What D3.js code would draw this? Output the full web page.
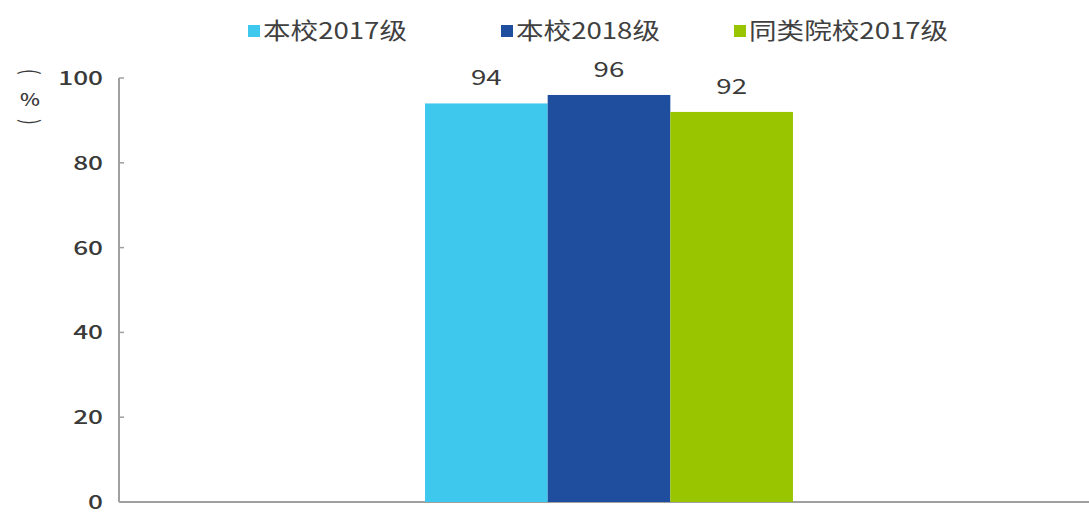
<!DOCTYPE html>
<html><head><meta charset="utf-8">
<script src="https://cdn.jsdelivr.net/npm/d3@7"></script>
<style>body{margin:0;background:#fff}svg{display:block}</style>
</head><body>
<svg id="c" width="1089" height="513"></svg>
<script>
const categories = [""];
const seriesNames = ["本校2017级", "本校2018级", "同类院校2017级"];
const seriesValues = [[94], [96], [92]];
const yTicks = [0, 20, 40, 60, 80, 100];
const colors = ["#3ec8ee", "#1f4e9e", "#99c400"];

(function () {
const svg = d3.select("#c");
const font = "'Noto Sans CJK SC','Noto Sans',sans-serif";
const mLeft = 119, mRight = 1089, mTop = 78, mBottom = 502;
const sx = 1.38;

const y = d3.scaleLinear().domain([0, 100]).range([mBottom, mTop]);
const x0 = d3.scaleBand().domain(categories).range([124, 1094]).paddingInner(0.45).paddingOuter(0.45);
const x1 = d3.scaleBand().domain(seriesNames).range([0, x0.bandwidth()]).padding(0);

// axes
const yAxis = d3.axisLeft(y).tickValues(yTicks).tickSize(0).tickPadding(0);
const gy = svg.append("g").attr("transform", `translate(${mLeft},0)`).call(yAxis);
gy.select(".domain").remove();
gy.selectAll(".tick text")
  .attr("x", null).attr("dy", null)
  .attr("transform", "translate(-16,6.5) scale(" + sx + ",1)")
  .attr("font-family", font).attr("font-size", 19).attr("font-weight", 500).attr("fill", "#3a3a3a");
// inner ticks
svg.append("g").selectAll("line").data(yTicks).join("line")
  .attr("x1", mLeft).attr("x2", mLeft + 5).attr("y1", d => y(d)).attr("y2", d => y(d))
  .attr("stroke", "#a0a0a0").attr("stroke-width", 1.5);
svg.append("line").attr("x1", mLeft).attr("x2", mLeft).attr("y1", y(100)).attr("y2", mBottom)
  .attr("stroke", "#a0a0a0").attr("stroke-width", 2);
svg.append("line").attr("x1", mLeft).attr("x2", mRight).attr("y1", mBottom).attr("y2", mBottom)
  .attr("stroke", "#a0a0a0").attr("stroke-width", 2);

// unit label
svg.append("text").attr("transform", "translate(30,72) rotate(90) scale(1,1.4)").attr("text-anchor", "middle")
  .attr("dy", "0.35em").attr("font-family", font).attr("font-size", 17).attr("fill", "#3a3a3a").text("(");
svg.append("text").attr("transform", "translate(30,100) scale(1.25,1)").attr("text-anchor", "middle").attr("dy", "0.35em")
  .attr("font-family", font).attr("font-size", 17).attr("font-weight", 500).attr("fill", "#3a3a3a").text("%");
svg.append("text").attr("transform", "translate(30,122) rotate(90) scale(1,1.4)").attr("text-anchor", "middle")
  .attr("dy", "0.35em").attr("font-family", font).attr("font-size", 17).attr("fill", "#3a3a3a").text(")");

// bars
const g = svg.append("g");
seriesNames.forEach((s, i) => {
  categories.forEach((c, j) => {
    const v = seriesValues[i][j];
    g.append("rect").attr("x", x0(c) + x1(s)).attr("width", x1.bandwidth())
      .attr("y", y(v)).attr("height", y(0) - y(v)).attr("fill", colors[i]);
    g.append("text")
      .attr("transform", `translate(${x0(c) + x1(s) + x1.bandwidth() / 2},${y(v) - 18}) scale(1.32,1)`)
      .attr("text-anchor", "middle").attr("font-family", font).attr("font-size", 21)
      .attr("fill", "#3a3a3a").text(v);
  });
});

// legend
const legX = [248, 501, 734];
const leg = svg.append("g");
seriesNames.forEach((s, i) => {
  leg.append("rect").attr("x", legX[i]).attr("y", 25).attr("width", 12).attr("height", 12).attr("fill", colors[i]);
  leg.append("text").attr("transform", `translate(${legX[i] + 15},31) scale(1.2,1)`).attr("dy", "0.35em")
    .attr("font-family", font).attr("font-size", 23).attr("fill", "#404040").text(s);
});
})();
</script>
</body></html>
